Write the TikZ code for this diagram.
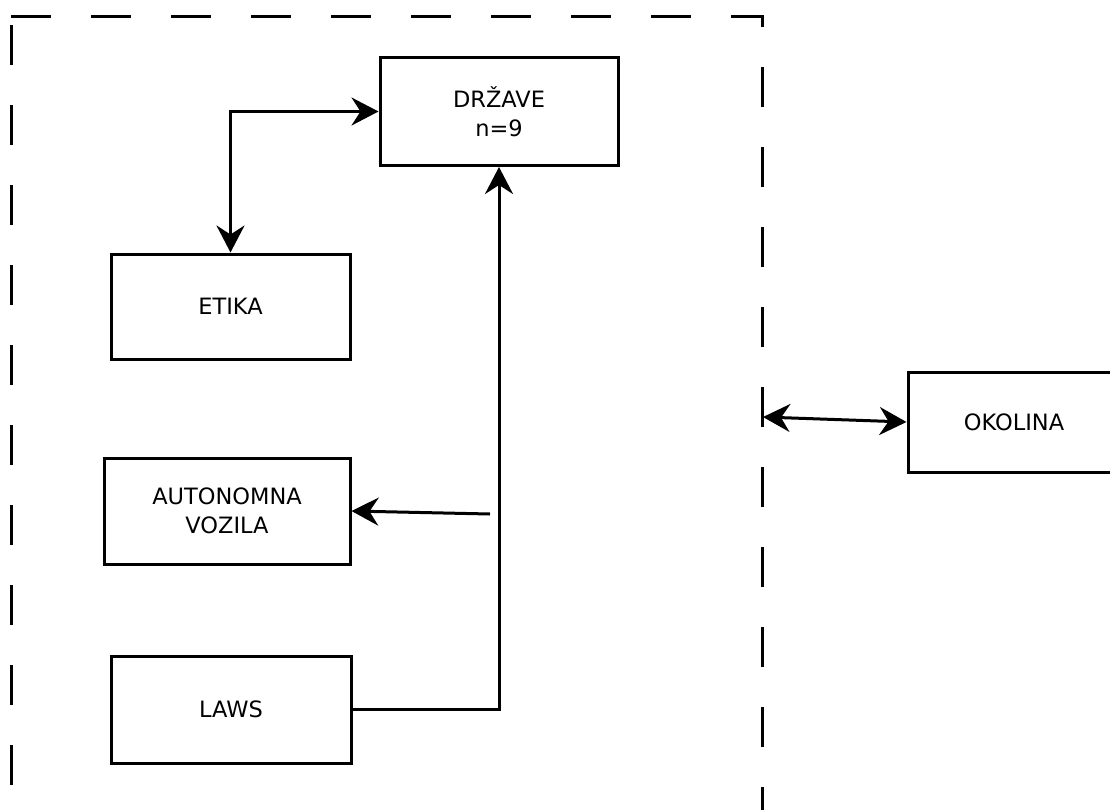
\documentclass[tikz,border=0pt]{standalone}
\usepackage{fontspec}
\setmainfont{DejaVu Sans}
\usetikzlibrary{arrows.meta}
\begin{document}
\begin{tikzpicture}[x=1pt,y=-1pt,
  box/.style={draw=black,line width=3pt,inner sep=0pt,align=center,
    font=\fontsize{22.5}{28.5}\selectfont},
  tip/.tip={Stealth[length=27pt,width=28pt,inset=9pt]},
  conn/.style={line width=3pt,arrows={-tip}},
  conn2/.style={line width=3pt,arrows={tip-tip}},
  frame/.style={line width=3pt,line cap=butt,miter limit=10}]
\useasboundingbox (0,0) rectangle (1110,809);
\clip (0,0) rectangle (1110,809);
% dashed frame (dashes drawn one by one: 40 on, 40 off)
\foreach \k in {0,...,8} {
  \draw[frame] (11+80*\k,16) -- (51+80*\k,16);
}
\draw[frame] (731,16) -- (762,16) -- (762,27);
\foreach \k in {0,...,9} {
  \draw[frame] (762,67+80*\k) -- (762,107+80*\k);
  \draw[frame] (11,25+80*\k) -- (11,65+80*\k);
}
% boxes
\node[box,minimum width=238pt,minimum height=108pt] (drz) at (499,111.5) {DRŽAVE\\n=9};
\node[box,minimum width=239pt,minimum height=105pt] (etika) at (230.5,306.5) {ETIKA};
\node[box,minimum width=246pt,minimum height=106pt] (avz) at (227,511) {AUTONOMNA\\VOZILA};
\node[box,minimum width=240pt,minimum height=107pt] (laws) at (231,709.5) {LAWS};
\node[box,minimum width=212pt,minimum height=100pt] (okol) at (1014,422) {OKOLINA};
% connectors
\coordinate (avsrc) at (490,514);
\coordinate (frameR) at (763,417);
\draw[conn2] (etika.north) |- (drz.west);
\draw[conn] (laws.east) -| (drz.south);
\draw[conn] (avsrc) -- (avz.east);
\draw[conn2] (frameR) -- (okol.west);
\end{tikzpicture}
\end{document}
